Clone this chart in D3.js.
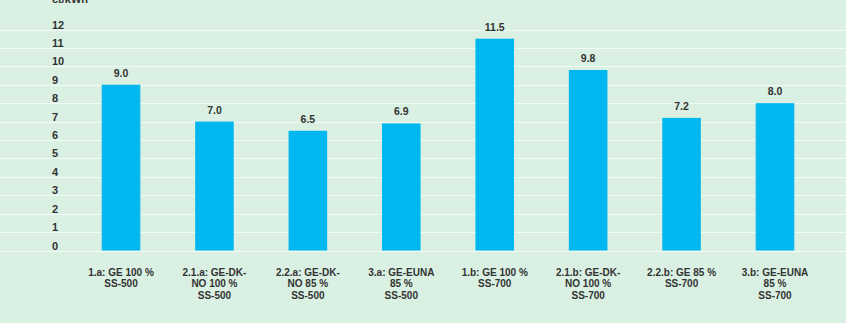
<!DOCTYPE html>
<html>
<head>
<meta charset="utf-8">
<script src="https://cdn.jsdelivr.net/npm/d3@7"></script>
<style>
  body { margin: 0; background: #d9f0e2; }
  svg { display: block; font-family: "Liberation Sans", Arial, sans-serif; }
</style>
</head>
<body>
<div id="chart"></div>
<script>
const svgWidth = 846;
const svgHeight = 323;

// data
const categories = [
  "1.a: GE 100 %|SS-500",
  "2.1.a: GE-DK-|NO 100 %|SS-500",
  "2.2.a: GE-DK-|NO 85 %|SS-500",
  "3.a: GE-EUNA|85 %|SS-500",
  "1.b: GE 100 %|SS-700",
  "2.1.b: GE-DK-|NO 100 %|SS-700",
  "2.2.b: GE 85 %|SS-700",
  "3.b: GE-EUNA|85 %|SS-700"
];
const values = [9.0, 7.0, 6.5, 6.9, 11.5, 9.8, 7.2, 8.0];
const yTicks = [0, 1, 2, 3, 4, 5, 6, 7, 8, 9, 10, 11, 12];
const unitLabel = "ct/kWh";

const svg = d3.select("#chart")
  .append("svg")
  .attr("width", svgWidth)
  .attr("height", svgHeight);

svg.append("rect")
  .attr("width", svgWidth)
  .attr("height", svgHeight)
  .attr("fill", "#d9f0e2");

const xScale = d3.scaleBand()
  .domain(categories)
  .range([74.3, 821.7])
  .paddingInner(0.587)
  .paddingOuter(0.2935);

const yScale = d3.scaleLinear()
  .domain([0, 12])
  .range([250.5, 29.5]);

// gridlines across full width
svg.append("g")
  .selectAll("line")
  .data(yTicks)
  .enter()
  .append("line")
  .attr("x1", 0)
  .attr("x2", svgWidth)
  .attr("y1", d => Math.round(yScale(d)) + 0.5)
  .attr("y2", d => Math.round(yScale(d)) + 0.5)
  .attr("stroke", "#f3fbf6")
  .attr("stroke-width", 1);

// y tick labels, sitting just above the lines
svg.append("g")
  .selectAll("text")
  .data(yTicks)
  .enter()
  .append("text")
  .attr("x", 52)
  .attr("y", d => yScale(d) - 1)
  .attr("text-anchor", "start")
  .attr("fill", "#333")
  .attr("font-size", 11)
  .attr("font-weight", "bold")
  .text(d => String(d));

// unit label (cut off at the top)
svg.append("text")
  .attr("x", 52)
  .attr("y", 3)
  .attr("fill", "#333")
  .attr("font-size", 11)
  .attr("font-weight", "bold")
  .text(unitLabel);

// bars
svg.append("g")
  .selectAll("rect")
  .data(values)
  .enter()
  .append("rect")
  .attr("x", (d, i) => xScale(categories[i]))
  .attr("y", d => yScale(d))
  .attr("width", xScale.bandwidth())
  .attr("height", d => yScale(0) - yScale(d))
  .attr("fill", "#00b8ef");

// value labels
svg.append("g")
  .selectAll("text")
  .data(values)
  .enter()
  .append("text")
  .attr("x", (d, i) => xScale(categories[i]) + xScale.bandwidth() / 2)
  .attr("y", d => yScale(d) - 8)
  .attr("text-anchor", "middle")
  .attr("fill", "#333")
  .attr("font-size", 10.5)
  .attr("font-weight", "bold")
  .text(d => d.toFixed(1));

// category labels
const xAxis = d3.axisBottom(xScale).tickSize(0).tickFormat("");
const xg = svg.append("g")
  .attr("transform", `translate(0, ${yScale(0)})`)
  .call(xAxis);
xg.select(".domain").remove();
xg.selectAll(".tick").each(function(d) {
  const t = d3.select(this).append("text")
    .attr("text-anchor", "middle")
    .attr("fill", "#333")
    .attr("font-size", 10)
    .attr("font-weight", "bold")
    .attr("font-family", "Liberation Sans, Arial, sans-serif");
  d.split("|").forEach((line, k) => {
    t.append("tspan")
      .attr("x", 0)
      .attr("y", 25 + k * 11.7)
      .text(line);
  });
});
</script>
</body>
</html>
